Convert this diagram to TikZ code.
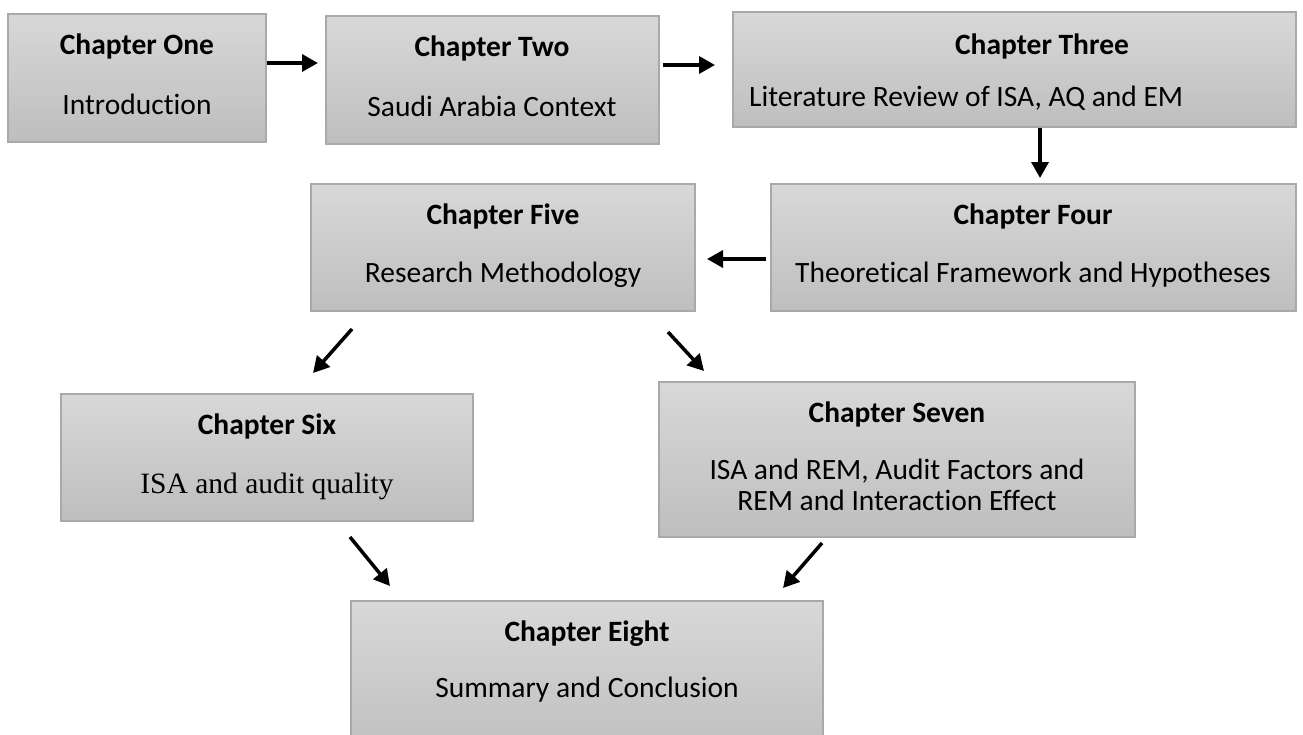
\documentclass[tikz,border=0pt]{standalone}
\usepackage{fontspec}
\setmainfont{Carlito}[Ligatures=NoCommon]
\newfontfamily\timesfont{Liberation Serif}
\usetikzlibrary{arrows.meta}
\definecolor{boxtop}{HTML}{D8D8D8}
\definecolor{boxbot}{HTML}{BEBEBE}
\definecolor{boxline}{HTML}{A9A9A9}
\begin{document}
\begin{tikzpicture}[x=1pt,y=-1pt,
  chapbox/.style={draw=boxline, line width=1.1pt, top color=boxtop, bottom color=boxbot},
  ttl/.style={anchor=base, font=\fontsize{29.5}{34}\selectfont\bfseries, inner sep=0pt},
  sub/.style={anchor=base, font=\fontsize{29.5}{34}\selectfont, inner sep=0pt},
  flow/.style={line width=3.5pt, -{Triangle[length=16pt,width=17pt]}}]
\useasboundingbox (0,0) rectangle (1303,734);

% chapter boxes
\path[chapbox] (8,14) rectangle (266,142);
\path[chapbox] (326,16) rectangle (659,144);
\path[chapbox] (733,12) rectangle (1296,127);
\path[chapbox] (771,184) rectangle (1296,311);
\path[chapbox] (311,184) rectangle (695,311);
\path[chapbox] (61,394) rectangle (473,521);
\path[chapbox] (659,382) rectangle (1135,537);
\path[chapbox] (351,601) rectangle (823,760);

% texts
\node[ttl] (t1) at (137,54) {Chapter One};
\node[sub] (s1) at (137,114) {Introduction};
\node[ttl] (t2) at (492,56) {Chapter Two};
\node[sub] (s2) at (492,116) {Saudi Arabia Context};
\node[ttl] (t3) at (1042,54) {Chapter Three};
\node[sub, anchor=base west] (s3) at (749,106) {Literature Review of ISA, AQ and EM};
\node[ttl] (t4) at (1033,224) {Chapter Four};
\node[sub] (s4) at (1033,282) {Theoretical Framework and Hypotheses};
\node[ttl] (t5) at (503,224) {Chapter Five};
\node[sub] (s5) at (503,282) {Research Methodology};
\node[ttl] (t6) at (267,434) {Chapter Six};
\node[sub, font=\fontsize{29.5}{34}\selectfont\timesfont] (s6) at (267,493) {ISA and audit quality};
\node[ttl] (t7) at (897,422) {Chapter Seven};
\node[sub] (s7a) at (897,479) {ISA and REM, Audit Factors and};
\node[sub] (s7b) at (897,510) {REM and Interaction Effect};
\node[ttl] (t8) at (587,641) {Chapter Eight};
\node[sub] (s8) at (587,697) {Summary and Conclusion};

% arrow end points
\coordinate (a1s) at (267,63);  \coordinate (a1e) at (318,63);
\coordinate (a2s) at (663,65);  \coordinate (a2e) at (715,65);
\coordinate (a3s) at (1040,128); \coordinate (a3e) at (1040,178);
\coordinate (a4s) at (766,259); \coordinate (a4e) at (707,259);
\coordinate (a5s) at (352,329); \coordinate (a5e) at (313,373);
\coordinate (a6s) at (668,332); \coordinate (a6e) at (704,371);
\coordinate (a7s) at (350,537); \coordinate (a7e) at (390,586);
\coordinate (a8s) at (822,543); \coordinate (a8e) at (783,588);

\draw[flow] (a1s) -- (a1e);
\draw[flow] (a2s) -- (a2e);
\draw[flow] (a3s) -- (a3e);
\draw[flow] (a4s) -- (a4e);
\draw[flow] (a5s) -- (a5e);
\draw[flow] (a6s) -- (a6e);
\draw[flow] (a7s) -- (a7e);
\draw[flow] (a8s) -- (a8e);
\end{tikzpicture}
\end{document}
